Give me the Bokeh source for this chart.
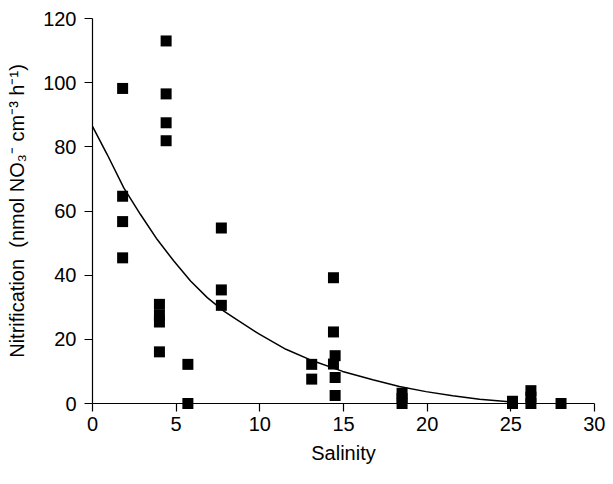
from bokeh.plotting import figure
from bokeh.models import Range1d, FixedTicker
from bokeh.embed import file_html
from bokeh.resources import INLINE

# Data
salinity = [1.8, 1.8, 1.8, 1.8,
            4.4, 4.4, 4.4, 4.4,
            4.0, 4.0, 4.0, 4.0,
            5.7, 5.7,
            7.7, 7.7, 7.7,
            13.1, 13.1,
            14.4, 14.4, 14.5, 14.4, 14.5, 14.5,
            18.5, 18.5, 18.5,
            25.1, 25.1,
            26.2, 26.2, 26.2,
            28.0]
nitrification = [98.2, 64.6, 56.7, 45.4,
                 113.0, 96.5, 87.5, 81.9,
                 30.9, 27.5, 25.4, 16.1,
                 12.2, 0.0,
                 54.7, 35.4, 30.6,
                 12.2, 7.6,
                 39.2, 22.3, 14.9, 12.3, 8.1, 2.5,
                 3.2, 1.6, 0.0,
                 0.7, 0.0,
                 4.0, 2.0, 0.0,
                 0.0]

# Fitted curve
fit_x = [0.0, 0.88, 1.87, 2.87, 3.87, 4.86, 5.86, 6.86, 7.85, 8.6, 9.97, 11.56,
         13.16, 14.95, 16.75, 18.34, 19.93, 21.53, 23.13, 24.72, 25.3]
fit_y = [86.4, 77.6, 67.2, 58.9, 51.1, 44.4, 38.2, 33.0, 28.8, 26.2, 21.6, 16.9,
         13.3, 10.0, 7.4, 5.3, 3.7, 2.4, 1.3, 0.6, 0.3]

x_ticks = [0, 5, 10, 15, 20, 25, 30]
y_ticks = [0, 20, 40, 60, 80, 100, 120]

FONT = "Liberation Sans"

p = figure(width=605, height=476, output_backend="svg", toolbar_location=None,
           x_range=Range1d(0, 30), y_range=Range1d(0, 120),
           min_border_left=92, min_border_right=11, min_border_top=18, min_border_bottom=73)
p.outline_line_color = None
p.xgrid.visible = False
p.ygrid.visible = False
p.background_fill_color = "white"

line = p.line(fit_x, fit_y, line_color="black", line_width=1.5)
line.level = "overlay"
pts = p.scatter(salinity, nitrification, marker="square", size=11,
                fill_color="black", line_color="black", line_width=0)
pts.level = "overlay"

for ax in (p.xaxis[0], p.yaxis[0]):
    ax.axis_line_color = "black"
    ax.axis_line_width = 1.2
    ax.major_tick_line_color = "black"
    ax.major_tick_line_width = 1.2
    ax.major_tick_out = 8
    ax.major_tick_in = 0
    ax.minor_tick_line_color = None
    ax.major_label_text_font = FONT
    ax.major_label_text_font_size = "20px"
    ax.major_label_text_color = "black"
    ax.axis_label_text_font = FONT
    ax.axis_label_text_font_size = "20px"
    ax.axis_label_text_font_style = "normal"
    ax.axis_label_text_color = "black"

p.xaxis.ticker = FixedTicker(ticks=x_ticks)
p.yaxis.ticker = FixedTicker(ticks=y_ticks)
p.xaxis.axis_label = "Salinity"
p.yaxis.axis_label = "Nitrification\u00a0 (nmol NO\u2083\u207b cm\u207b\u00b3 h\u207b\u00b9)"
p.xaxis.major_label_standoff = 5
p.xaxis.axis_label_standoff = 8
p.yaxis.major_label_standoff = 8
p.yaxis.axis_label_standoff = 12

open("out.html", "w").write(file_html(p, INLINE))
